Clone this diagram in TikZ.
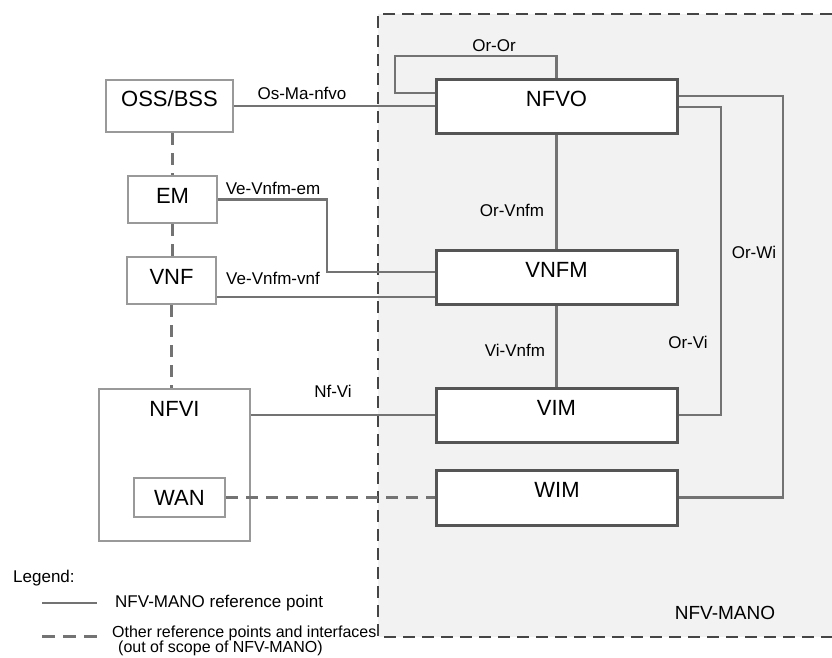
\documentclass[tikz,border=0pt]{standalone}
\usepackage{fontspec}
\setmainfont{Liberation Sans}
\definecolor{manofill}{HTML}{F2F2F2}
\definecolor{manoedge}{HTML}{555555}
\definecolor{outedge}{HTML}{999999}
\definecolor{refline}{HTML}{737373}
\definecolor{scopeedge}{HTML}{454545}
\begin{document}
\begin{tikzpicture}[x=1pt,y=-1pt]
\tikzstyle{mano}=[draw=manoedge,line width=3pt,fill=white,inner sep=0pt,minimum width=241pt,minimum height=54pt,text height=16pt,text depth=16pt,font=\fontsize{22}{26}\selectfont]
\tikzstyle{outbox}=[draw=outedge,line width=2pt,fill=white,inner sep=0pt,font=\fontsize{22}{26}\selectfont]
\tikzstyle{lbl}=[inner sep=0pt,text height=12pt,text depth=0pt,font=\fontsize{17}{20}\selectfont]
\tikzstyle{ref}=[draw=refline,line width=2.5pt]
\tikzstyle{iface}=[draw=refline,line width=3pt,dash pattern=on 12pt off 8pt]
\useasboundingbox (0,0) rectangle (832,657);

\fill[manofill] (378,14) rectangle (832,637);
\draw[scopeedge,line width=2.5pt,dash pattern=on 12pt off 7pt] (832,14) -- (378,14) -- (378,637) -- (832,637);
\node[lbl,font=\fontsize{19}{22}\selectfont,text height=13.5pt] at (725,613) (mano) {NFV-MANO};

\node[mano] at (556.5,106) (nfvo) {NFVO};
\node[mano] at (556.5,277) (vnfm) {VNFM};
\node[mano] at (556.5,415) (vim) {VIM};
\node[mano,minimum height=55pt] at (557,497.5) (wim) {WIM};

\node[outbox,minimum width=127pt,minimum height=52pt,text height=16pt,text depth=16pt] at (169.5,106) (oss) {OSS/BSS};
\node[outbox,minimum width=89pt,minimum height=47pt,text height=16pt,text depth=9pt] at (172.5,199.5) (em) {EM};
\node[outbox,minimum width=89pt,minimum height=47pt,text height=16pt,text depth=9pt] at (171.5,280.5) (vnf) {VNF};
\node[outbox,minimum width=151pt,minimum height=152pt,label={[below=10pt,font=\fontsize{22}{26}\selectfont]north:NFVI}] at (174.5,465) (nfvi) {};
\node[outbox,minimum width=91pt,minimum height=39pt] at (179.5,497.5) (wan) {WAN};

\draw[ref] (oss.east) -- (nfvo.west);
\draw[ref] (nfvo.west |- 0,93) -| (395,56) -| (nfvo.north);
\draw[ref] (em.east) -| (327,272) -- (vnfm.west |- 0,272);
\draw[ref] (vnf.east |- 0,297) -- (vnfm.west |- 0,297);
\draw[ref] (nfvi.east |- vim.west) -- (vim.west);
\draw[ref] (nfvo.south) -- (vnfm.north);
\draw[ref] (vnfm.south) -- (vim.north);
\draw[ref] (nfvo.east |- 0,107) -| (vim.east -| 721,0) -- (vim.east);
\draw[ref] (nfvo.east |- 0,96) -| (wim.east -| 783,0) -- (wim.east);

\draw[iface] (em.north |- oss.south) -- (em.north);
\draw[iface] (em.south) -- (em.south |- vnf.north);
\draw[iface] (vnf.south) -- (vnf.south |- nfvi.north);
\draw[iface] (wan.east) -- (wim.west);

\node[lbl] at (494,45) (oror) {Or-Or};
\node[lbl] at (302,93) (osma) {Os-Ma-nfvo};
\node[lbl] at (273,188) (veem) {Ve-Vnfm-em};
\node[lbl] at (273,278) (vevnf) {Ve-Vnfm-vnf};
\node[lbl] at (512,210) (orvnfm) {Or-Vnfm};
\node[lbl] at (515,350) (vivnfm) {Vi-Vnfm};
\node[lbl] at (333,391) (nfvi-l) {Nf-Vi};
\node[lbl] at (688,342) (orvi) {Or-Vi};
\node[lbl] at (754,252) (orwi) {Or-Wi};

\node[lbl,anchor=west] at (13,576) (legend) {Legend:};
\draw[ref] (42,603) -- (97,603);
\node[lbl,anchor=west] at (115,601) (leg1) {NFV-MANO reference point};
\draw[iface,dash pattern=on 13pt off 8pt] (42,636) -- (97,636);
\node[lbl,anchor=west,font=\fontsize{16}{19}\selectfont,text height=11.5pt] at (112,632) (leg2) {Other reference points and interfaces};
\node[lbl,anchor=west,font=\fontsize{16}{19}\selectfont,text height=11.5pt] at (118,647) (leg3) {(out of scope of NFV-MANO)};
\end{tikzpicture}
\end{document}
